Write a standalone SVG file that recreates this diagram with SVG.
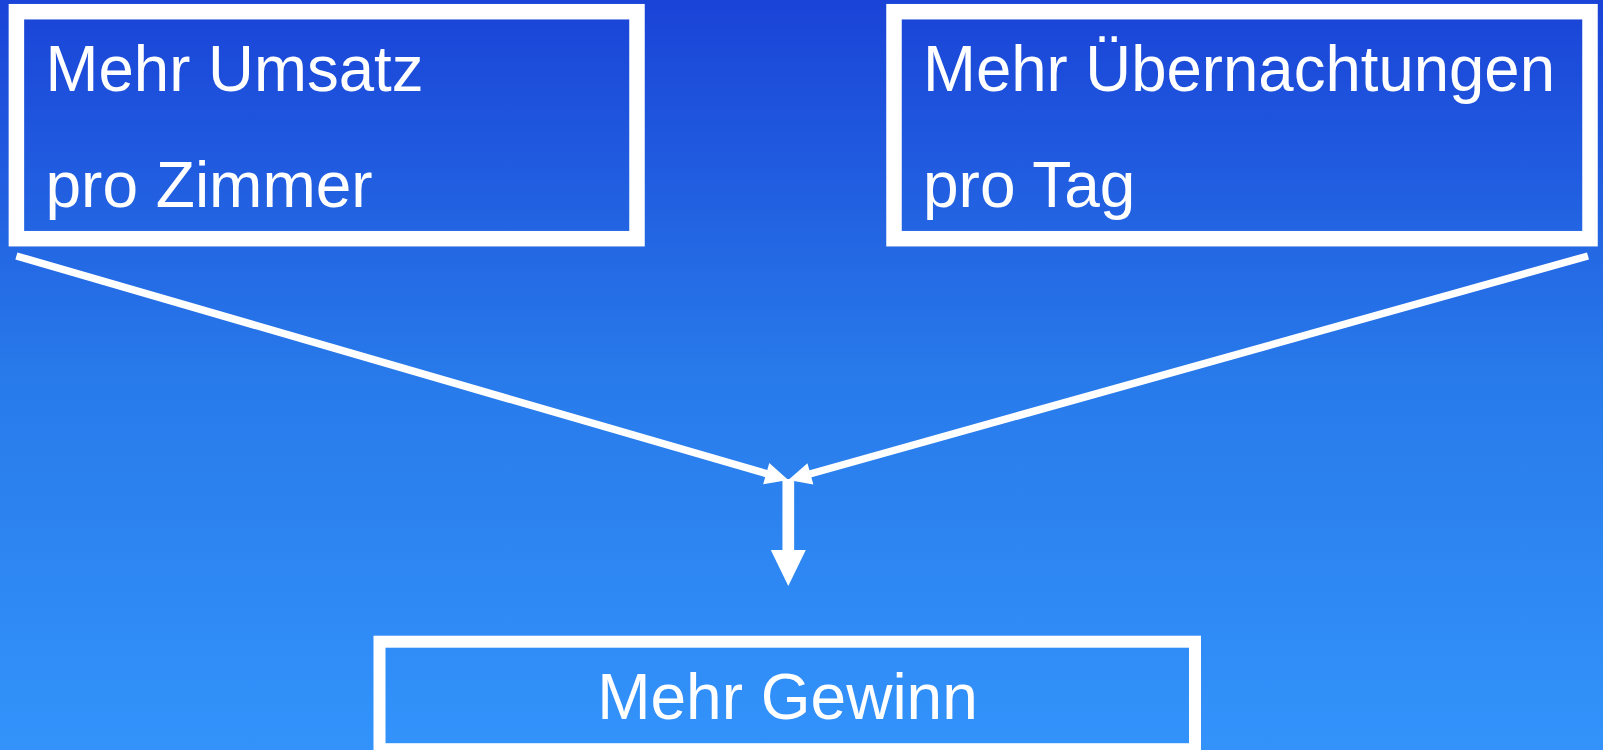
<svg xmlns="http://www.w3.org/2000/svg" width="1603" height="750" viewBox="0 0 1603 750">
  <defs>
    <linearGradient id="bg" x1="0" y1="0" x2="0" y2="1">
      <stop offset="0" stop-color="#1a43d7"/>
      <stop offset="0.5" stop-color="#287aea"/>
      <stop offset="1" stop-color="#3393fb"/>
    </linearGradient>
    <marker id="head-in" markerUnits="userSpaceOnUse" markerWidth="23" markerHeight="22" refX="8" refY="11" orient="auto" overflow="visible">
      <path d="M0,0 L23,11 L0,22 Z" fill="#fff"/>
    </marker>
    <marker id="head-down" markerUnits="userSpaceOnUse" markerWidth="36" markerHeight="35" refX="2" refY="17.5" orient="auto" overflow="visible">
      <path d="M0,0 L36,17.5 L0,35 Z" fill="#fff"/>
    </marker>
    <style>
      .box { fill: none; stroke: #fff; }
      .label { font-family: "Liberation Sans", Arial, sans-serif; font-size: 64px; fill: #fff; }
      .link { stroke: #fff; fill: none; }
    </style>
  </defs>

  <rect width="1603" height="750" fill="url(#bg)"/>

  <g id="node-umsatz">
    <rect class="box" x="16.4" y="11.7" width="620.6" height="227" stroke-width="15.5"/>
    <text class="label" x="45.5" y="90.7" textLength="378" lengthAdjust="spacingAndGlyphs">Mehr Umsatz</text>
    <text class="label" x="45.5" y="206.7">pro Zimmer</text>
  </g>

  <g id="node-uebernachtungen">
    <rect class="box" x="894" y="11.7" width="696" height="227" stroke-width="15.5"/>
    <text class="label" x="923" y="90.7" textLength="632" lengthAdjust="spacingAndGlyphs">Mehr Übernachtungen</text>
    <text class="label" x="923" y="206.7">pro Tag</text>
  </g>

  <g id="node-gewinn">
    <rect class="box" x="379.5" y="641.7" width="815.5" height="107.5" stroke-width="12"/>
    <text class="label" x="787.5" y="719.3" text-anchor="middle">Mehr Gewinn</text>
  </g>

  <g id="connectors">
    <line class="link" x1="16.4" y1="256" x2="773.9" y2="475.8" stroke-width="7.5" marker-end="url(#head-in)"/>
    <line class="link" x1="1588" y1="256" x2="802.7" y2="476" stroke-width="7.5" marker-end="url(#head-in)"/>
    <line class="link" x1="788.3" y1="479" x2="788.3" y2="552" stroke-width="11.7" marker-end="url(#head-down)"/>
  </g>
</svg>
